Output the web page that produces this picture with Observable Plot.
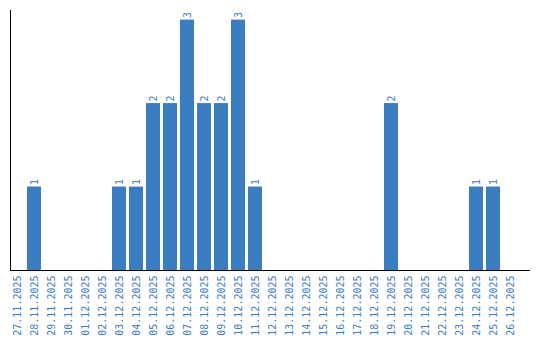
<!DOCTYPE html>
<html>
<head>
<meta charset="utf-8">
<script src="https://cdn.jsdelivr.net/npm/d3@7"></script>
<script src="https://cdn.jsdelivr.net/npm/@observablehq/plot@0.6"></script>
<style>
  html, body { margin: 0; padding: 0; background: #fff; }
</style>
</head>
<body>
<div id="chart"></div>
<script>
const dates = [
  "27.11.2025","28.11.2025","29.11.2025","30.11.2025","01.12.2025","02.12.2025",
  "03.12.2025","04.12.2025","05.12.2025","06.12.2025","07.12.2025","08.12.2025",
  "09.12.2025","10.12.2025","11.12.2025","12.12.2025","13.12.2025","14.12.2025",
  "15.12.2025","16.12.2025","17.12.2025","18.12.2025","19.12.2025","20.12.2025",
  "21.12.2025","22.12.2025","23.12.2025","24.12.2025","25.12.2025","26.12.2025"
];
const counts = [
  0,1,0,0,0,0,
  1,1,2,2,3,2,
  2,3,1,0,0,0,
  0,0,0,0,2,0,
  0,0,0,1,1,0
];

const data = dates.map((d, i) => ({date: d, count: counts[i]}));
const blue = "#3b7dc1";
const font = "'DejaVu Sans Mono', monospace";

const chart = Plot.plot({
  width: 540,
  height: 340,
  marginTop: 10,
  marginLeft: 10,
  marginRight: 10,
  marginBottom: 70,
  style: {fontFamily: font, fontSize: "10px", background: "#fff"},
  x: {type: "band", domain: dates, paddingInner: 3/17, paddingOuter: 0.382, align: 0, label: null},
  y: {domain: [0, 3.115], label: null, axis: null},
  marks: [
    Plot.barY(data, {x: "date", y: "count", fill: blue}),
    Plot.text(data.filter(d => d.count > 0), {
      x: "date", y: "count", text: d => String(d.count),
      rotate: -90, textAnchor: "start", lineAnchor: "middle",
      dy: -2, fill: blue, fontSize: 10, fontFamily: font
    }),
    Plot.axisX({tickSize: 0, tickPadding: 5, tickRotate: -90, fill: blue, label: null, fontSize: 10, fontFamily: font}),
    Plot.frame({anchor: "left", stroke: "#000"}),
    Plot.ruleY([0], {stroke: "#000"})
  ]
});
document.getElementById("chart").appendChild(chart);
</script>
</body>
</html>
